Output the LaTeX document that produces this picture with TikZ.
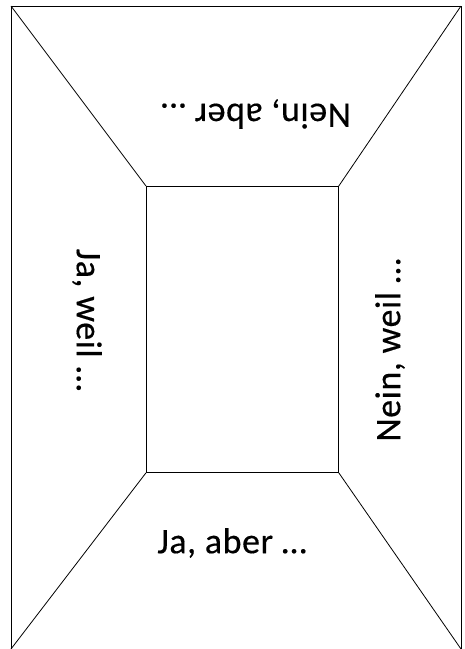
\documentclass[tikz,border=0pt]{standalone}
\usepackage{fontspec}
\setmainfont{Carlito}
\begin{document}
\begin{tikzpicture}[x=1pt,y=-1pt,
  frame/.style={line width=0.8pt,black},
  label/.style={font=\fontsize{36}{42}\selectfont\addfontfeature{LetterSpace=1.5,FakeBold=0.4},inner sep=0pt}]
\useasboundingbox (0,0) rectangle (465,649);
% outer frame corners (open at the bottom edge)
\coordinate (otl) at (11,6);
\coordinate (otr) at (461,6);
\coordinate (obl) at (11,649);
\coordinate (obr) at (461,649);
% inner rectangle
\node[draw,frame,minimum width=192pt,minimum height=286pt,inner sep=0pt,anchor=north west] (inner) at (146,186) {};
\draw[frame] (obl) -- (otl) -- (otr) -- (obr);
% diagonals from the frame corners to the inner rectangle
\draw[frame] (otl) -- (inner.north west);
\draw[frame] (otr) -- (inner.north east);
\draw[frame] (obl) -- (inner.south west);
\draw[frame] (obr) -- (inner.south east);
% side texts
\node[label,rotate=180] (top) at (256,114) {Nein, aber \dots};
\node[label] (bottom) at (232,543) {Ja, aber \dots};
\node[label,rotate=-90] (left) at (87,320) {Ja, weil \dots};
\node[label,rotate=90] (right) at (390,350) {Nein, weil \dots};
\end{tikzpicture}
\end{document}
